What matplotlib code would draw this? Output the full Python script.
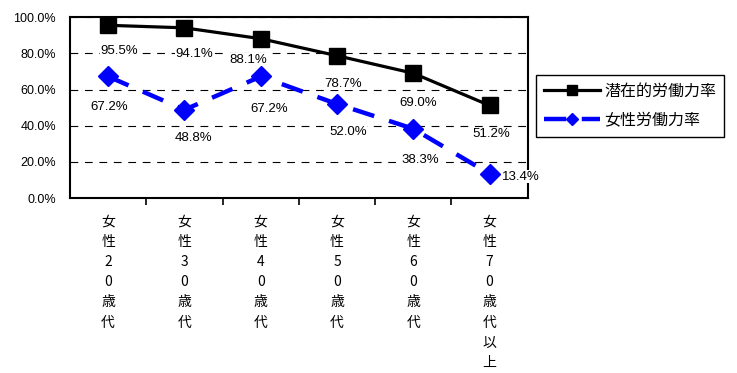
import matplotlib.pyplot as plt
from matplotlib.ticker import FixedLocator, PercentFormatter

plt.rcParams['font.family'] = ['Liberation Sans', 'Noto Sans CJK JP', 'DejaVu Sans']

categories = ["女性20歳代", "女性30歳代", "女性40歳代", "女性50歳代", "女性60歳代", "女性70歳代以上"]
potential = [95.5, 94.1, 88.1, 78.7, 69.0, 51.2]
female = [67.2, 48.8, 67.2, 52.0, 38.3, 13.4]

# label offsets in pixels (dx, dy) from each marker
potential_off = [(11, -26), (10, -26), (-12, -21), (6, -28), (5, -30), (2, -29)]
female_off = [(1, -31), (9, -28), (8, -33), (11, -28), (7, -31), (31, -3)]

fig = plt.figure(figsize=(7.37, 3.73), dpi=100)
ax = fig.add_axes([0.095, 0.469, 0.621, 0.485])

x = range(len(categories))
l1, = ax.plot(x, potential, color='black', lw=2.3, marker='s', ms=11,
              label='潜在的労働力率', zorder=4)
l2, = ax.plot(x, female, color='#0000ff', lw=3.2, ls=(0, (5, 3.5)), marker='D',
              ms=10, label='女性労働力率', zorder=3)

for i, v in enumerate(potential):
    ax.annotate(f'{v:.1f}%', (i, v), xytext=potential_off[i], textcoords='offset pixels',
                ha='center', va='center', fontsize=9.5,
                bbox=dict(boxstyle='square,pad=0.05', fc='white', ec='none'))
for i, v in enumerate(female):
    ax.annotate(f'{v:.1f}%', (i, v), xytext=female_off[i], textcoords='offset pixels',
                ha='center', va='center', fontsize=9.5,
                bbox=dict(boxstyle='square,pad=0.05', fc='white', ec='none'))

ax.set_xlim(-0.5, len(categories) - 0.5)
ax.set_ylim(0, 100)
ax.yaxis.set_major_locator(FixedLocator([0, 20, 40, 60, 80, 100]))
ax.yaxis.set_major_formatter(PercentFormatter(decimals=1))
ax.tick_params(axis='y', length=0, pad=10, labelsize=9)
ax.grid(axis='y', color='black', ls=(0, (7, 6)), lw=0.8)
ax.set_axisbelow(True)

ax.set_xticks(list(x))
ax.set_xticklabels(['\n'.join(c) for c in categories],
                   family=['Noto Sans CJK JP'], fontsize=10, linespacing=1.56)
ax.tick_params(axis='x', which='major', length=0, pad=12)
ax.set_xticks([i + 0.5 for i in range(len(categories) - 1)], minor=True)
ax.tick_params(axis='x', which='minor', length=5, width=1.2, direction='out')

for s in ax.spines.values():
    s.set_linewidth(1.5)

leg = fig.legend(handles=[l1, l2], loc='upper left',
                 bbox_to_anchor=(536 / 737, 1 - 75 / 373),
                 prop={'family': ['Noto Sans CJK JP'], 'size': 11.5},
                 handlelength=3.5, markerscale=0.65, fancybox=False,
                 edgecolor='black', framealpha=1, borderpad=0.5,
                 labelspacing=0.75, handletextpad=0.25, borderaxespad=0)
leg.get_frame().set_linewidth(1.0)

fig.savefig('out.png', dpi=100)
